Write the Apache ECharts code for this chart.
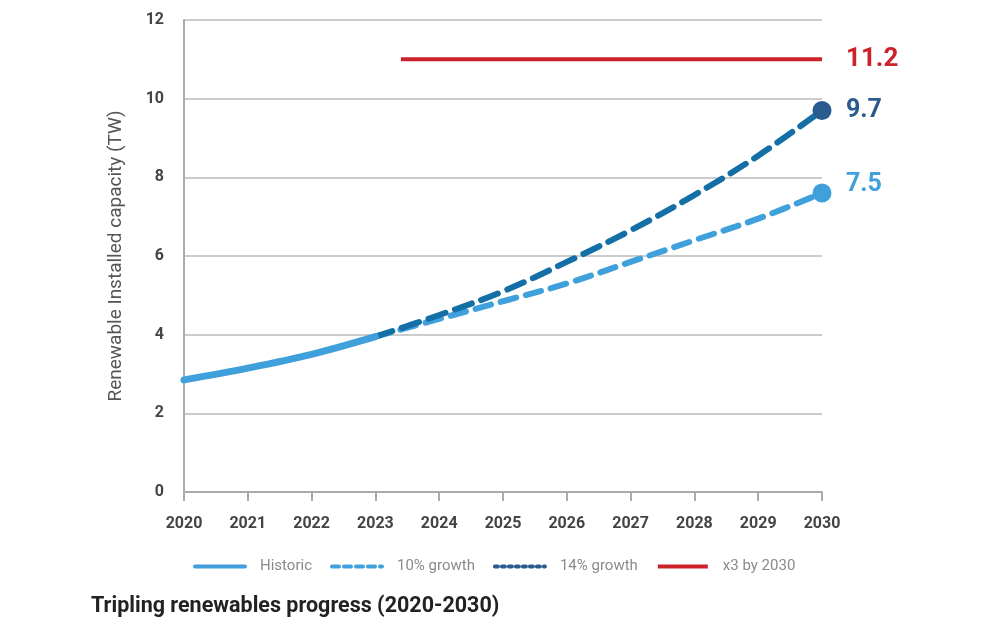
<!DOCTYPE html>
<html>
<head>
<meta charset="utf-8">
<script src="https://cdn.jsdelivr.net/npm/echarts@6/dist/echarts.min.js"></script>
<style>
  html, body { margin: 0; padding: 0; background: #fff; }
  #main { width: 1000px; height: 640px; }
</style>
</head>
<body>
<div id="main"></div>
<script>
// values (TW)
const historicYears = [2020, 2021, 2022, 2023];
const historicValues = [2.85, 3.15, 3.5, 3.95];
const projYears = [2023, 2024, 2025, 2026, 2027, 2028, 2029, 2030];
const growth10 = [3.95, 4.4, 4.85, 5.3, 5.85, 6.4, 6.95, 7.6];
const growth14 = [3.95, 4.5, 5.1, 5.85, 6.65, 7.55, 8.55, 9.7];
const targetYears = [2023.4, 2030];
const targetValues = [11.0, 11.0];

const FONT = "Roboto, 'Liberation Sans', sans-serif";
const LIGHT = "#3fa0db";
const DARK = "#136fa6";
const NAVY = "#2a5a90";
const RED = "#cc2229";

function pairs(xs, ys) {
  return xs.map((x, i) => [x, ys[i]]);
}

// last point gets a dot
function withEndDot(xs, ys, color) {
  const d = pairs(xs, ys);
  const last = d.length - 1;
  d[last] = {
    value: d[last],
    symbol: "circle",
    symbolSize: 19,
    itemStyle: { color: color },
  };
  return d;
}

const chart = echarts.init(document.getElementById("main"));
chart.setOption({
  animation: false,
  textStyle: { fontFamily: FONT },
  title: {
    text: "Tripling renewables progress (2020-2030)",
    left: 86,
    top: 591,
    textStyle: { fontFamily: FONT, fontSize: 21.5, fontWeight: "bold", color: "#222" },
  },
  grid: { left: 184, right: 178, top: 20, bottom: 148 },
  legend: {
    top: 554,
    left: 188,
    itemWidth: 50,
    itemHeight: 10,
    itemGap: 18,
    itemStyle: { opacity: 0 },
    textStyle: { fontFamily: FONT, fontSize: 15, color: "#8a8a8a", padding: [0, 0, 0, 10] },
    data: [
      { name: "Historic", lineStyle: { color: LIGHT, width: 4 } },
      { name: "10% growth", lineStyle: { type: [7, 5], color: LIGHT, width: 4 } },
      { name: "14% growth", lineStyle: { type: [3, 4], color: NAVY, width: 4 } },
      { name: "x3 by 2030", lineStyle: { color: RED, width: 4 } },
    ],
  },
  xAxis: {
    type: "value",
    min: 2020,
    max: 2030,
    interval: 1,
    axisLine: { show: true, lineStyle: { color: "#aaa", width: 2 } },
    axisTick: { show: true, length: 9, inside: false, lineStyle: { color: "#aaa", width: 2 } },
    axisLabel: {
      color: "#444",
      fontSize: 16,
      fontWeight: "bold",
      margin: 24,
      fontFamily: FONT,
      formatter: (v) => String(v),
    },
    splitLine: { show: false },
  },
  yAxis: {
    type: "value",
    min: 0,
    max: 12,
    interval: 2,
    name: "Renewable Installed capacity (TW)",
    nameLocation: "middle",
    nameGap: 58,
    nameTextStyle: { color: "#555", fontSize: 19, fontFamily: FONT },
    axisLine: { show: true, lineStyle: { color: "#aaa", width: 2 } },
    axisTick: { show: false },
    axisLabel: { color: "#444", fontSize: 16, fontWeight: "bold", margin: 20, fontFamily: FONT },
    splitLine: { show: true, lineStyle: { color: "#bbb", width: 1.5 } },
  },
  series: [
    {
      name: "x3 by 2030",
      type: "line",
      data: pairs(targetYears, targetValues),
      symbol: "none",
      lineStyle: { color: RED, width: 4 },
      itemStyle: { color: RED },
      endLabel: {
        show: true,
        formatter: "11.2",
        color: RED,
        fontSize: 26,
        fontWeight: "bold",
        fontFamily: FONT,
        distance: 24,
      },
    },
    {
      name: "10% growth",
      type: "line",
      data: withEndDot(projYears, growth10, LIGHT),
      symbol: "none",
      smooth: 0.35,
      lineStyle: { color: LIGHT, width: 6, type: [16, 10], cap: "round" },
      itemStyle: { color: LIGHT },
      endLabel: {
        show: true,
        formatter: "7.5",
        color: LIGHT,
        fontSize: 25,
        fontWeight: "bold",
        fontFamily: FONT,
        distance: 24,
        offset: [0, -8],
      },
    },
    {
      name: "14% growth",
      type: "line",
      data: withEndDot(projYears, growth14, NAVY),
      symbol: "none",
      smooth: 0.35,
      lineStyle: { color: DARK, width: 6, type: [18, 10], cap: "round" },
      itemStyle: { color: NAVY },
      endLabel: {
        show: true,
        formatter: "9.7",
        color: NAVY,
        fontSize: 25,
        fontWeight: "bold",
        fontFamily: FONT,
        distance: 24,
      },
    },
    {
      name: "Historic",
      type: "line",
      data: pairs(historicYears, historicValues),
      symbol: "none",
      smooth: 0.35,
      lineStyle: { color: LIGHT, width: 7, cap: "round" },
      itemStyle: { color: LIGHT },
      z: 5,
    },
  ],
});
</script>
</body>
</html>
